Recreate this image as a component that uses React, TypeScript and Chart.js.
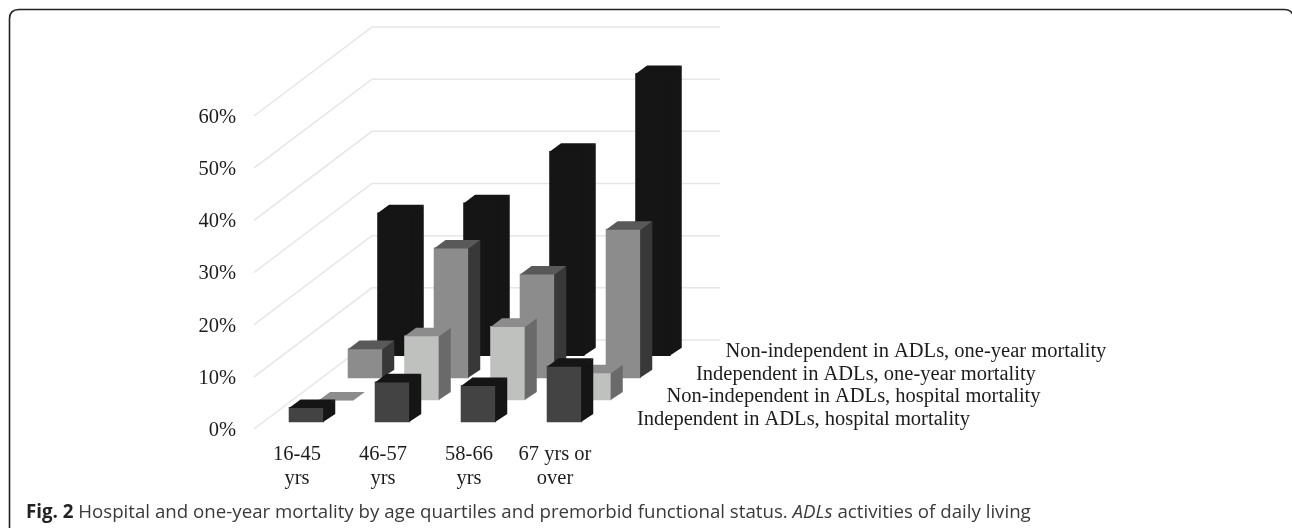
import React, { useEffect, useRef } from "react";
import { Chart, registerables } from "chart.js";

Chart.register(...registerables);

const categories = [["16-45", "yrs"], ["46-57", "yrs"], ["58-66", "yrs"], ["67 yrs or", "over"]];
const seriesNames = [
  "Independent in ADLs, hospital mortality",
  "Non-independent in ADLs, hospital mortality",
  "Independent in ADLs, one-year mortality",
  "Non-independent in ADLs, one-year mortality",
];
const independentHospital = [2.8, 7.7, 7.0, 10.7];
const nonIndependentHospital = [0, 12.3, 14.1, 5.2];
const independentYear = [5.6, 24.9, 19.9, 28.5];
const nonIndependentYear = [27.4, 29.3, 39.2, 54.1];
const seriesValues = [independentHospital, nonIndependentHospital, independentYear, nonIndependentYear];

const frontColors = ["#434343", "#bfc1bf", "#8c8c8c", "#151515"];
const topColors = ["#151515", "#8c8c8c", "#595959", "#151515"];
const sideColors = ["#151515", "#6a6a6a", "#383838", "#151515"];

const SERIF = '"Liberation Serif", serif';
const SANS = '"Open Sans", sans-serif';
const DEPTH_X = 118, DEPTH_Y = 89;
const STEP_X = 29.5, STEP_Y = 22.1;
const BAR_DX = 9.4, BAR_DY = 7;
const FACE_X = 11.5, FACE_Y = 8;

const scene = {
  id: "scene",
  beforeDraw(chart: any) {
    const { ctx, width, height } = chart;
    ctx.save();
    ctx.fillStyle = "#fff";
    ctx.fillRect(0, 0, width, height);
    ctx.strokeStyle = "#222";
    ctx.lineWidth = 1.6;
    ctx.beginPath();
    ctx.moveTo(9.5, 528);
    ctx.lineTo(9.5, 19);
    ctx.quadraticCurveTo(9.5, 9.5, 19, 9.5);
    ctx.lineTo(1284, 9.5);
    ctx.quadraticCurveTo(1291, 9.5, 1293, 15);
    ctx.stroke();
    ctx.restore();
  },
  beforeDatasetsDraw(chart: any) {
    const { ctx, scales } = chart;
    const y = scales.y, left = chart.chartArea.left;
    ctx.save();
    ctx.strokeStyle = "#e6e6e6";
    ctx.lineWidth = 1.5;
    y.ticks.forEach((t: any) => {
      const py = y.getPixelForValue(t.value);
      ctx.beginPath();
      ctx.moveTo(left, py);
      ctx.lineTo(left + DEPTH_X, py - DEPTH_Y);
      ctx.lineTo(720, py - DEPTH_Y);
      ctx.stroke();
    });
    ctx.restore();
  },
  beforeDatasetDraw(chart: any, args: any) {
    const i = args.index;
    chart.ctx.save();
    chart.ctx.translate(BAR_DX + STEP_X * i, -BAR_DY - STEP_Y * i);
  },
  afterDatasetDraw(chart: any, args: any) {
    const { ctx } = chart;
    const i = args.index;
    args.meta.data.forEach((bar: any) => {
      const { x, y, base, width } = bar.getProps(["x", "y", "base", "width"], true);
      const l = x - width / 2, r = x + width / 2;
      ctx.fillStyle = sideColors[i];
      ctx.beginPath();
      ctx.moveTo(r - 0.6, y - 0.6);
      ctx.lineTo(r + FACE_X, y - FACE_Y);
      ctx.lineTo(r + FACE_X, base - FACE_Y);
      ctx.lineTo(r - 0.6, base);
      ctx.closePath();
      ctx.fill();
      ctx.fillStyle = topColors[i];
      ctx.beginPath();
      ctx.moveTo(l, y + 0.6);
      ctx.lineTo(l + FACE_X, y - FACE_Y);
      ctx.lineTo(r + FACE_X, y - FACE_Y);
      ctx.lineTo(r, y + 0.6);
      ctx.closePath();
      ctx.fill();
    });
    ctx.restore();
  },
  afterDraw(chart: any) {
    const { ctx, scales } = chart;
    const zero = scales.y.getPixelForValue(0);
    ctx.save();
    ctx.fillStyle = "#1c1c1c";
    ctx.textAlign = "left";
    ctx.textBaseline = "middle";
    ctx.font = `20.5px ${SERIF}`;
    chart.data.datasets.forEach((d: any, i: number) => {
      ctx.fillText(d.label, 637 + STEP_X * i, zero - 9.5 - 22.5 * i);
    });
    ctx.textBaseline = "alphabetic";
    let cx = 26;
    const runs: [string, string, string][] = [
      ["Fig. 2", `bold 18.7px ${SANS}`, "#222"],
      [" Hospital and one-year mortality by age quartiles and premorbid functional status. ", `18.7px ${SANS}`, "#3a3a3a"],
      ["ADLs", `italic 18.7px ${SANS}`, "#3a3a3a"],
      [" activities of daily living", `18.7px ${SANS}`, "#3a3a3a"],
    ];
    runs.forEach(([text, font, color]) => {
      ctx.font = font;
      ctx.fillStyle = color;
      ctx.fillText(text, cx, 518);
      cx += ctx.measureText(text).width;
    });
    ctx.restore();
  },
};

export default function App() {
  const ref = useRef<HTMLCanvasElement>(null);
  useEffect(() => {
    document.body.style.margin = "0";
    const chart = new Chart(ref.current!, {
      type: "bar",
      data: {
        labels: categories as any,
        datasets: seriesValues.map((data, i) => ({
          label: seriesNames[i],
          data,
          backgroundColor: frontColors[i],
          borderWidth: 0,
          barThickness: 34.7,
          grouped: false,
          clip: false as any,
        })),
      },
      options: {
        animation: false,
        responsive: false,
        devicePixelRatio: 1,
        layout: { padding: { left: 0, top: 116, right: 694, bottom: 0 } },
        plugins: { legend: { display: false }, title: { display: false }, tooltip: { enabled: false } },
        scales: {
          x: {
            grid: { display: false, drawTicks: false },
            border: { display: false },
            afterFit: (s: any) => { s.height = 99; },
            ticks: {
              autoSkip: false,
              maxRotation: 0,
              minRotation: 0,
              padding: 13.5,
              color: "#1c1c1c",
              font: { family: SERIF, size: 20.5, lineHeight: 1.17 },
            },
          },
          y: {
            min: 0,
            max: 60,
            grid: { display: false, drawTicks: false },
            border: { display: false },
            afterFit: (s: any) => { s.width = 254; },
            ticks: {
              stepSize: 10,
              padding: 18,
              labelOffset: 1.5,
              color: "#1c1c1c",
              font: { family: SERIF, size: 20.5 },
              callback: (v: any) => `${v}%`,
            },
          },
        },
      },
      plugins: [scene],
    });
    return () => chart.destroy();
  }, []);
  return <canvas ref={ref} width={1292} height={528} style={{ display: "block", width: 1292, height: 528 }} />;
}
